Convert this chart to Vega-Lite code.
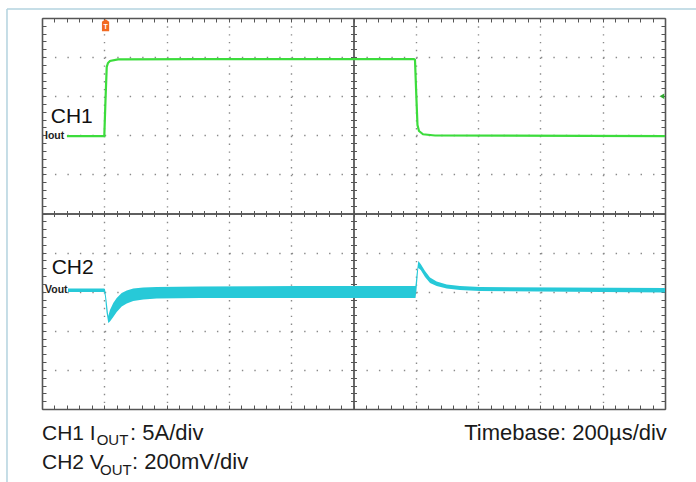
{
  "$schema": "https://vega.github.io/schema/vega-lite/v6.json",
  "width": 623,
  "height": 391,
  "autosize": "none",
  "padding": {"left": 42, "top": 18, "right": 31, "bottom": 73},
  "background": "white",
  "config": {
    "view": {"stroke": null},
    "axis": {"labels": false, "title": null, "domainColor": "#555", "domainWidth": 1.6, "tickColor": "#555", "tickWidth": 1, "grid": false}
  },
  "datasets": {
    "ch1": [
      {"t": 0.40, "v": 6.98}, {"t": 1.0, "v": 6.98}, {"t": 1.019, "v": 7.90}, {"t": 1.039, "v": 8.747},
      {"t": 1.059, "v": 8.849}, {"t": 1.091, "v": 8.90}, {"t": 1.22, "v": 8.94}, {"t": 2.5, "v": 8.95},
      {"t": 4.1, "v": 8.95}, {"t": 5.97, "v": 8.95}, {"t": 5.987, "v": 8.93}, {"t": 6.011, "v": 7.90},
      {"t": 6.027, "v": 7.263}, {"t": 6.051, "v": 7.11}, {"t": 6.116, "v": 7.026}, {"t": 6.308, "v": 6.995},
      {"t": 10.0, "v": 6.98}
    ],
    "ch2": [
      {"t": 0.417, "hi": 3.082, "lo": 2.992}, {"t": 0.995, "hi": 3.082, "lo": 2.992},
      {"t": 1.011, "hi": 3.069, "lo": 2.890}, {"t": 1.035, "hi": 2.788, "lo": 2.481},
      {"t": 1.064, "hi": 2.379, "lo": 2.199}, {"t": 1.091, "hi": 2.532, "lo": 2.238},
      {"t": 1.144, "hi": 2.711, "lo": 2.353}, {"t": 1.199, "hi": 2.839, "lo": 2.481},
      {"t": 1.279, "hi": 2.967, "lo": 2.621}, {"t": 1.360, "hi": 3.031, "lo": 2.698},
      {"t": 1.465, "hi": 3.082, "lo": 2.762}, {"t": 1.626, "hi": 3.107, "lo": 2.801},
      {"t": 1.841, "hi": 3.120, "lo": 2.826}, {"t": 2.536, "hi": 3.133, "lo": 2.839},
      {"t": 4.141, "hi": 3.146, "lo": 2.839}, {"t": 5.979, "hi": 3.146, "lo": 2.839},
      {"t": 5.995, "hi": 3.146, "lo": 2.839}, {"t": 6.011, "hi": 3.427, "lo": 3.043},
      {"t": 6.040, "hi": 3.785, "lo": 3.606}, {"t": 6.079, "hi": 3.708, "lo": 3.555},
      {"t": 6.148, "hi": 3.529, "lo": 3.376}, {"t": 6.228, "hi": 3.363, "lo": 3.223},
      {"t": 6.335, "hi": 3.261, "lo": 3.146}, {"t": 6.496, "hi": 3.184, "lo": 3.082},
      {"t": 6.709, "hi": 3.146, "lo": 3.043}, {"t": 7.030, "hi": 3.120, "lo": 3.018},
      {"t": 10.0, "hi": 3.095, "lo": 2.980}
    ]
  },
  "data": {"values": [{}]},
  "resolve": {"axis": {"x": "independent", "y": "independent"}},
  "layer": [
    {
      "data": {"name": "ch1"},
      "mark": {"type": "point", "opacity": 0},
      "encoding": {
        "x": {"field": "t", "type": "quantitative", "scale": {"domain": [0, 10], "nice": false, "zero": false},
              "axis": {"orient": "bottom", "ticks": false, "domain": false, "grid": true, "values": [1, 2, 3, 4, 6, 7, 8, 9], "gridColor": "#8a8a8a", "gridWidth": 1.4, "gridDash": [1.4, 6.42], "gridOpacity": 1}},
        "y": {"field": "v", "type": "quantitative", "scale": {"domain": [0, 10], "nice": false, "zero": false},
              "axis": {"orient": "left", "ticks": false, "domain": false, "grid": true, "values": [1, 2, 3, 4, 6, 7, 8, 9], "gridColor": "#8a8a8a", "gridWidth": 1.4, "gridDash": [1.4, 11.06], "gridOpacity": 1}}
      }
    },
    {
      "data": {"name": "ch1"},
      "mark": {"type": "point", "opacity": 0},
      "encoding": {
        "x": {"field": "t", "type": "quantitative",
              "axis": {"orient": "bottom", "tickSize": -4, "values": [0,0.2,0.4,0.6,0.8,1,1.2,1.4,1.6,1.8,2,2.2,2.4,2.6,2.8,3,3.2,3.4,3.6,3.8,4,4.2,4.4,4.6,4.8,5,5.2,5.4,5.6,5.8,6,6.2,6.4,6.6,6.8,7,7.2,7.4,7.6,7.8,8,8.2,8.4,8.6,8.8,9,9.2,9.4,9.6,9.8,10]}},
        "y": {"field": "v", "type": "quantitative",
              "axis": {"orient": "left", "tickSize": -4, "values": [0,0.2,0.4,0.6,0.8,1,1.2,1.4,1.6,1.8,2,2.2,2.4,2.6,2.8,3,3.2,3.4,3.6,3.8,4,4.2,4.4,4.6,4.8,5,5.2,5.4,5.6,5.8,6,6.2,6.4,6.6,6.8,7,7.2,7.4,7.6,7.8,8,8.2,8.4,8.6,8.8,9,9.2,9.4,9.6,9.8,10]}}
      }
    },
    {
      "data": {"name": "ch1"},
      "mark": {"type": "point", "opacity": 0},
      "encoding": {
        "x": {"field": "t", "type": "quantitative",
              "axis": {"orient": "top", "tickSize": -4, "values": [0,0.2,0.4,0.6,0.8,1,1.2,1.4,1.6,1.8,2,2.2,2.4,2.6,2.8,3,3.2,3.4,3.6,3.8,4,4.2,4.4,4.6,4.8,5,5.2,5.4,5.6,5.8,6,6.2,6.4,6.6,6.8,7,7.2,7.4,7.6,7.8,8,8.2,8.4,8.6,8.8,9,9.2,9.4,9.6,9.8,10]}},
        "y": {"field": "v", "type": "quantitative",
              "axis": {"orient": "right", "tickSize": -4, "values": [0,0.2,0.4,0.6,0.8,1,1.2,1.4,1.6,1.8,2,2.2,2.4,2.6,2.8,3,3.2,3.4,3.6,3.8,4,4.2,4.4,4.6,4.8,5,5.2,5.4,5.6,5.8,6,6.2,6.4,6.6,6.8,7,7.2,7.4,7.6,7.8,8,8.2,8.4,8.6,8.8,9,9.2,9.4,9.6,9.8,10]}}
      }
    },
    {
      "data": {"name": "ch1"},
      "mark": {"type": "point", "opacity": 0},
      "encoding": {
        "x": {"field": "t", "type": "quantitative",
              "axis": {"orient": "bottom", "offset": {"expr": "-height/2"}, "tickSize": 3, "domainWidth": 1.3, "values": [0,0.2,0.4,0.6,0.8,1,1.2,1.4,1.6,1.8,2,2.2,2.4,2.6,2.8,3,3.2,3.4,3.6,3.8,4,4.2,4.4,4.6,4.8,5,5.2,5.4,5.6,5.8,6,6.2,6.4,6.6,6.8,7,7.2,7.4,7.6,7.8,8,8.2,8.4,8.6,8.8,9,9.2,9.4,9.6,9.8,10]}},
        "y": {"field": "v", "type": "quantitative",
              "axis": {"orient": "left", "offset": {"expr": "-width/2"}, "tickSize": 3, "domainWidth": 1.3, "values": [0,0.2,0.4,0.6,0.8,1,1.2,1.4,1.6,1.8,2,2.2,2.4,2.6,2.8,3,3.2,3.4,3.6,3.8,4,4.2,4.4,4.6,4.8,5,5.2,5.4,5.6,5.8,6,6.2,6.4,6.6,6.8,7,7.2,7.4,7.6,7.8,8,8.2,8.4,8.6,8.8,9,9.2,9.4,9.6,9.8,10]}}
      }
    },
    {
      "data": {"name": "ch1"},
      "mark": {"type": "point", "opacity": 0},
      "encoding": {
        "x": {"field": "t", "type": "quantitative",
              "axis": {"orient": "top", "offset": {"expr": "-height/2"}, "tickSize": 3, "domainWidth": 1.3, "values": [0,0.2,0.4,0.6,0.8,1,1.2,1.4,1.6,1.8,2,2.2,2.4,2.6,2.8,3,3.2,3.4,3.6,3.8,4,4.2,4.4,4.6,4.8,5,5.2,5.4,5.6,5.8,6,6.2,6.4,6.6,6.8,7,7.2,7.4,7.6,7.8,8,8.2,8.4,8.6,8.8,9,9.2,9.4,9.6,9.8,10]}},
        "y": {"field": "v", "type": "quantitative",
              "axis": {"orient": "right", "offset": {"expr": "-width/2"}, "tickSize": 3, "domainWidth": 1.3, "values": [0,0.2,0.4,0.6,0.8,1,1.2,1.4,1.6,1.8,2,2.2,2.4,2.6,2.8,3,3.2,3.4,3.6,3.8,4,4.2,4.4,4.6,4.8,5,5.2,5.4,5.6,5.8,6,6.2,6.4,6.6,6.8,7,7.2,7.4,7.6,7.8,8,8.2,8.4,8.6,8.8,9,9.2,9.4,9.6,9.8,10]}}
      }
    },
    {
      "data": {"name": "ch2"},
      "mark": {"type": "area", "color": "#27c9d8", "opacity": 1, "interpolate": "linear"},
      "encoding": {
        "x": {"field": "t", "type": "quantitative", "axis": null},
        "y": {"field": "hi", "type": "quantitative", "axis": null},
        "y2": {"field": "lo"}
      }
    },
    {
      "data": {"name": "ch1"},
      "mark": {"type": "line", "color": "#3cdc3c", "strokeWidth": 2.2},
      "encoding": {
        "x": {"field": "t", "type": "quantitative", "axis": null},
        "y": {"field": "v", "type": "quantitative", "axis": null}
      }
    },
    {
      "mark": {"type": "text", "text": "CH1", "align": "left", "baseline": "alphabetic", "fontSize": 21, "font": "Liberation Sans", "color": "#111"},
      "encoding": {"x": {"datum": 0.14, "type": "quantitative", "axis": null}, "y": {"datum": 7.315, "type": "quantitative", "axis": null}}
    },
    {
      "mark": {"type": "text", "text": "CH2", "align": "left", "baseline": "alphabetic", "fontSize": 21, "font": "Liberation Sans", "color": "#111"},
      "encoding": {"x": {"datum": 0.155, "type": "quantitative", "axis": null}, "y": {"datum": 3.453, "type": "quantitative", "axis": null}}
    },
    {
      "mark": {"type": "text", "text": "Iout", "align": "left", "baseline": "middle", "fontSize": 10.5, "fontWeight": "bold", "font": "Liberation Sans", "color": "#222"},
      "encoding": {"x": {"datum": 0.048, "type": "quantitative", "axis": null}, "y": {"datum": 6.98, "type": "quantitative", "axis": null}}
    },
    {
      "mark": {"type": "text", "text": "Vout", "align": "left", "baseline": "middle", "fontSize": 10.5, "fontWeight": "bold", "font": "Liberation Sans", "color": "#222"},
      "encoding": {"x": {"datum": 0.048, "type": "quantitative", "axis": null}, "y": {"datum": 3.04, "type": "quantitative", "axis": null}}
    },
    {
      "mark": {"type": "point", "shape": "M0,-1 L0.6,-0.6 L0.6,1 L-0.6,1 L-0.6,-0.6 Z", "size": 144, "filled": true, "color": "#f26a21", "opacity": 1},
      "encoding": {"x": {"datum": 1.02, "type": "quantitative", "axis": null}, "y": {"datum": 9.813, "type": "quantitative", "axis": null}}
    },
    {
      "mark": {"type": "text", "text": "T", "align": "center", "baseline": "middle", "fontSize": 7, "fontWeight": "bold", "font": "Liberation Sans", "color": "white"},
      "encoding": {"x": {"datum": 1.02, "type": "quantitative", "axis": null}, "y": {"datum": 9.78, "type": "quantitative", "axis": null}}
    },
    {
      "mark": {"type": "point", "shape": "triangle-left", "size": 30, "filled": true, "color": "#2fa82f", "opacity": 1},
      "encoding": {"x": {"datum": 9.95, "type": "quantitative", "axis": null}, "y": {"datum": 8.0, "type": "quantitative", "axis": null}}
    },
    {
      "mark": {"type": "rule", "color": "#b3d3df", "strokeWidth": 1.5},
      "encoding": {"x": {"datum": -0.562, "type": "quantitative", "axis": null}, "y": {"datum": 10.23, "type": "quantitative", "axis": null}, "y2": {"datum": -2.2}}
    },
    {
      "mark": {"type": "rule", "color": "#b3d3df", "strokeWidth": 1.5},
      "encoding": {"y": {"datum": 10.23, "type": "quantitative", "axis": null}, "x": {"datum": -0.562, "type": "quantitative", "axis": null}, "x2": {"datum": 10.6}}
    },
    {
      "mark": {"type": "text", "text": "CH1 I", "align": "left", "baseline": "alphabetic", "fontSize": 21, "font": "Liberation Sans", "color": "#1a1a1a"},
      "encoding": {"x": {"datum": 0.0, "type": "quantitative", "axis": null}, "y": {"datum": -0.785, "type": "quantitative", "axis": null}}
    },
    {
      "mark": {"type": "text", "text": "OUT", "align": "left", "baseline": "alphabetic", "fontSize": 15, "font": "Liberation Sans", "color": "#1a1a1a"},
      "encoding": {"x": {"datum": 0.878, "type": "quantitative", "axis": null}, "y": {"datum": -0.921, "type": "quantitative", "axis": null}}
    },
    {
      "mark": {"type": "text", "text": ": 5A/div", "align": "left", "baseline": "alphabetic", "fontSize": 22, "font": "Liberation Sans", "color": "#1a1a1a"},
      "encoding": {"x": {"datum": 1.413, "type": "quantitative", "axis": null}, "y": {"datum": -0.785, "type": "quantitative", "axis": null}}
    },
    {
      "mark": {"type": "text", "text": "CH2 V", "align": "left", "baseline": "alphabetic", "fontSize": 21, "font": "Liberation Sans", "color": "#1a1a1a"},
      "encoding": {"x": {"datum": 0.0, "type": "quantitative", "axis": null}, "y": {"datum": -1.542, "type": "quantitative", "axis": null}}
    },
    {
      "mark": {"type": "text", "text": "OUT", "align": "left", "baseline": "alphabetic", "fontSize": 15, "font": "Liberation Sans", "color": "#1a1a1a"},
      "encoding": {"x": {"datum": 0.931, "type": "quantitative", "axis": null}, "y": {"datum": -1.68, "type": "quantitative", "axis": null}}
    },
    {
      "mark": {"type": "text", "text": ": 200mV/div", "align": "left", "baseline": "alphabetic", "fontSize": 22, "font": "Liberation Sans", "color": "#1a1a1a"},
      "encoding": {"x": {"datum": 1.445, "type": "quantitative", "axis": null}, "y": {"datum": -1.542, "type": "quantitative", "axis": null}}
    },
    {
      "mark": {"type": "text", "text": "Timebase: 200µs/div", "align": "right", "baseline": "alphabetic", "fontSize": 22, "font": "Liberation Sans", "color": "#1a1a1a"},
      "encoding": {"x": {"datum": 10.03, "type": "quantitative", "axis": null}, "y": {"datum": -0.793, "type": "quantitative", "axis": null}}
    }
  ]
}
